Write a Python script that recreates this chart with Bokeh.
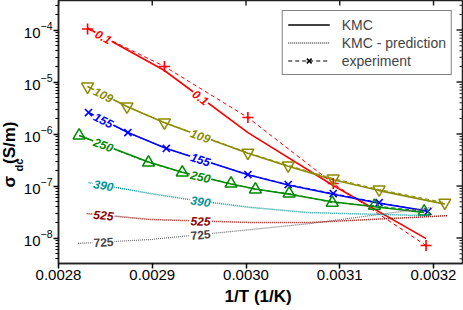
import math
import numpy as np
from bokeh.plotting import figure
from bokeh.models import (Range1d, FixedTicker, Legend, LegendItem, Title,
                          LogTickFormatter, PrintfTickFormatter, ColumnDataSource)
from bokeh.core.properties import value
from bokeh.embed import file_html
from bokeh.resources import INLINE

# ---------------- data: 1/T (1/K) and sigma_dc (S/m) ----------------
x_01 = [0.002831, 0.002913, 0.003002, 0.003093, 0.003192]
exp_01 = [1.05e-4, 2.0e-5, 2.08e-6, 1.12e-7, 7.2e-9]
kmc_01 = [1.1e-4, 1.67e-5, 1.07e-6, 1.03e-7, 9.8e-9]

x_109 = [0.002831, 0.002873, 0.002913, 0.003002, 0.003045, 0.003093, 0.003142, 0.003212]
exp_109 = [8.2e-6, 3.4e-6, 1.67e-6, 4.4e-7, 2.5e-7, 1.4e-7, 8.6e-8, 4.8e-8]
kmc_109 = [8.2e-6, 3.4e-6, 1.65e-6, 4.3e-7, 2.4e-7, 1.33e-7, 8.2e-8, 4.5e-8]

x_155 = [0.002832, 0.002874, 0.002915, 0.003002, 0.003045, 0.003093, 0.003142, 0.003194]
exp_155 = [2.6e-6, 1.07e-6, 5.3e-7, 1.67e-7, 1.07e-7, 7.2e-8, 4.8e-8, 3.25e-8]
kmc_155 = [2.6e-6, 1.07e-6, 5.3e-7, 1.65e-7, 1.05e-7, 7.0e-8, 4.7e-8, 3.3e-8]

x_250 = [0.002822, 0.002896, 0.002932, 0.002984, 0.003010, 0.003046, 0.003092, 0.003137, 0.003190]
exp_250 = [9.4e-7, 2.84e-7, 1.83e-7, 1.12e-7, 8.6e-8, 7.2e-8, 4.8e-8, 4.2e-8, 3.25e-8]
kmc_250 = [9.4e-7, 2.9e-7, 1.85e-7, 1.1e-7, 8.8e-8, 7.0e-8, 5.0e-8, 4.0e-8, 3.1e-8]

x_390 = [0.002832, 0.002898, 0.002952, 0.003005, 0.003066, 0.003195]
pred_390 = [1.17e-7, 7.2e-8, 5.1e-8, 3.9e-8, 3.1e-8, 2.7e-8]
x_525 = [0.002830, 0.002898, 0.003005, 0.003069, 0.003215]
pred_525 = [2.97e-8, 2.28e-8, 2.0e-8, 2.0e-8, 2.7e-8]
x_725 = [0.002821, 0.002858, 0.002898, 0.002941, 0.003069, 0.003199]
pred_725 = [7.9e-9, 8.6e-9, 9.4e-9, 1.12e-8, 1.91e-8, 3.9e-8]

curve_names = ["0.1", "109", "155", "250", "390", "525", "725"]
label_x_first = 0.002848
label_x_second = 0.0029515

x_ticks = [0.0028, 0.0029, 0.0030, 0.0031, 0.0032]
y_ticks = [1e-8, 1e-7, 1e-6, 1e-5, 1e-4]
legend_labels = ["KMC", "KMC - prediction", "experiment"]
x_title = "1/T  (1/K)"
y_title_main = "σ\u2002\u2009(S/m)"
y_title_sub = "dc"

# ---------------- styles ----------------
C_RED, C_OLIVE, C_BLUE, C_GREEN = "#ff0000", "#8c8c00", "#0000ff", "#008a00"
C_TEAL, C_DRED, C_GRAY = "#009494", "#8b0000", "#6a6a6a"
FONT = "Liberation Sans"
AXC = "#222222"

X0, X1 = 0.0028, 0.0032309
LOG0, LOG1 = -8.488, -3.431
FRAME_W, FRAME_H = 404, 263
XS = FRAME_W / (X1 - X0)
YS = FRAME_H / (LOG1 - LOG0)

p = figure(width=463, height=310, x_range=Range1d(X0, X1),
           y_range=Range1d(10 ** LOG0, 10 ** LOG1), y_axis_type="log",
           output_backend="svg", toolbar_location=None,
           min_border_left=58, min_border_right=1, min_border_top=0, min_border_bottom=47)
p.title.visible = False
p.xgrid.visible = False
p.ygrid.visible = False
p.outline_line_color = AXC
p.outline_line_width = 1.5
p.background_fill_color = "white"

minor_y = [k * 10.0 ** n for n in range(-9, -3) for k in range(2, 10)
           if LOG0 < math.log10(k * 10.0 ** n) < LOG1]

for ax in p.xaxis:
    ax.ticker = FixedTicker(ticks=x_ticks, minor_ticks=[])
    ax.formatter = PrintfTickFormatter(format="%.4f")
    ax.major_tick_out = 5
    ax.major_tick_in = 0
    ax.minor_tick_out = 0
    ax.minor_tick_in = 0
    ax.axis_line_width = 1.5
    ax.axis_line_color = AXC
    ax.major_tick_line_width = 1.5
    ax.major_label_text_font = FONT
    ax.major_label_text_font_size = "15px"
    ax.major_label_text_color = "black"
    ax.major_label_standoff = 1
    ax.axis_label = x_title
    ax.axis_label_text_font = FONT
    ax.axis_label_text_font_size = "17px"
    ax.axis_label_text_font_style = "bold"
    ax.axis_label_text_color = "black"
    ax.axis_label_standoff = 4

for ax in p.yaxis:
    ax.ticker = FixedTicker(ticks=y_ticks, minor_ticks=minor_y)
    ax.formatter = LogTickFormatter()
    ax.major_tick_out = 5
    ax.major_tick_in = 0
    ax.minor_tick_out = 3
    ax.minor_tick_in = 0
    ax.axis_line_width = 1.5
    ax.axis_line_color = AXC
    ax.major_tick_line_width = 1.5
    ax.major_label_text_font = FONT
    ax.major_label_text_font_size = "15px"
    ax.major_label_text_color = "black"
    ax.major_label_standoff = 1

# y title: subscript column next to the axis, main text outside it (offsets from the bottom)
p.add_layout(Title(text=y_title_sub, text_font=FONT, text_font_size="11px",
                   text_font_style="bold", text_color="black", align="left",
                   offset=92, standoff=-9), "left")
p.add_layout(Title(text=y_title_main, text_font=FONT, text_font_size="17px",
                   text_font_style="bold", text_color="black", align="left",
                   offset=76, standoff=-7), "left")

# mirrored inward ticks on the top and right edges
ytop = 10 ** LOG1
p.segment(x0=x_ticks, y0=[ytop] * len(x_ticks), x1=x_ticks,
          y1=[10 ** (LOG1 - 5 / YS)] * len(x_ticks), line_color=AXC, line_width=1.5)
p.segment(x0=[X1] * len(y_ticks), y0=y_ticks, x1=[X1 - 6 / XS] * len(y_ticks),
          y1=y_ticks, line_color=AXC, line_width=1.5)
p.segment(x0=[X1] * len(minor_y), y0=minor_y, x1=[X1 - 3 / XS] * len(minor_y),
          y1=minor_y, line_color=AXC, line_width=1)

# ---------------- curves ----------------
# KMC (solid)
p.line(x_01, kmc_01, color=C_RED, line_width=1.6)
p.line(x_109, kmc_109, color=C_OLIVE, line_width=1.6)
p.line(x_155, kmc_155, color=C_BLUE, line_width=1.6)
p.line(x_250, kmc_250, color=C_GREEN, line_width=1.6)
# experiment (dashed + markers)
p.line(x_01, exp_01, color=C_RED, line_width=1, line_dash="4 3")
p.line(x_109, exp_109, color=C_OLIVE, line_width=1, line_dash="4 3")
p.line(x_155, exp_155, color=C_BLUE, line_width=1, line_dash="4 3")
p.line(x_250, exp_250, color=C_GREEN, line_width=1, line_dash="4 3")
p.scatter(x_01, exp_01, marker="cross", size=11, line_color=C_RED, line_width=1.6)
p.scatter(x_109, exp_109, marker="inverted_triangle", size=12, line_color=C_OLIVE,
          fill_color=None, line_width=1.5)
p.scatter(x_155, exp_155, marker="x", size=10, line_color=C_BLUE, line_width=1.6)
p.scatter(x_250, exp_250, marker="triangle", size=12, line_color=C_GREEN,
          fill_color=None, line_width=1.5)
# KMC prediction (dotted)
p.line(x_390, pred_390, color=C_TEAL, line_width=1.5, line_dash="1 1")
p.line(x_525, pred_525, color=C_DRED, line_width=1.5, line_dash="1 1")
p.line(x_725, pred_725, color=C_GRAY, line_width=1.2, line_dash="1 1")

# ---------------- inline curve labels ----------------
series_for_labels = [(x_01, kmc_01, C_RED), (x_109, kmc_109, C_OLIVE),
                     (x_155, kmc_155, C_BLUE), (x_250, kmc_250, C_GREEN),
                     (x_390, pred_390, C_TEAL), (x_525, pred_525, C_DRED),
                     (x_725, pred_725, "#444444")]
lab = {"x": [], "y": [], "t": [], "a": [], "c": []}
lab_up = {"x": [], "y": [], "t": [], "a": [], "c": []}
for name, (xs, ys, col) in zip(curve_names, series_for_labels):
    lys = np.log10(ys)
    for lx in (label_x_first, label_x_second):
        ly = float(np.interp(lx, xs, lys))
        i = int(np.clip(np.searchsorted(xs, lx) - 1, 0, len(xs) - 2))
        ang = math.atan2((lys[i + 1] - lys[i]) * YS, (xs[i + 1] - xs[i]) * XS)
        d = lab_up if name == "725" else lab
        d["x"].append(lx); d["y"].append(10 ** ly); d["t"].append(name)
        d["a"].append(ang); d["c"].append(col)

for d, style in ((lab, "bold italic"), (lab_up, "bold")):
    p.text(x="x", y="y", text="t", angle="a", text_color="c", source=ColumnDataSource(d),
           text_font=value(FONT), text_font_size="12px", text_font_style=style,
           text_align="center", text_baseline="middle",
           background_fill_color="white", padding=1)

# ---------------- legend (proxy renderers outside the visible range) ----------------
px_out, py_out = [0.0027], [1e-6]
r_k = p.line(px_out, py_out, color="black", line_width=1.5)
r_p = p.line(px_out, py_out, color="black", line_width=1, line_dash="1 1")
r_e1 = p.line(px_out, py_out, color="black", line_width=1, line_dash="4 3")
r_e2 = p.scatter(px_out, py_out, marker="x", size=10, line_color="black", line_width=1.5)
legend = Legend(items=[LegendItem(label=legend_labels[0], renderers=[r_k]),
                       LegendItem(label=legend_labels[1], renderers=[r_p]),
                       LegendItem(label=legend_labels[2], renderers=[r_e1, r_e2])],
                location="top_right", margin=10, padding=5, spacing=1,
                glyph_width=42, glyph_height=17, label_height=17, label_standoff=12,
                label_text_font=FONT, label_text_font_size="14px",
                border_line_color="black", border_line_width=1.5,
                background_fill_color="white", background_fill_alpha=1.0)
p.add_layout(legend, "center")

open("out.html", "w").write(file_html(p, INLINE))
